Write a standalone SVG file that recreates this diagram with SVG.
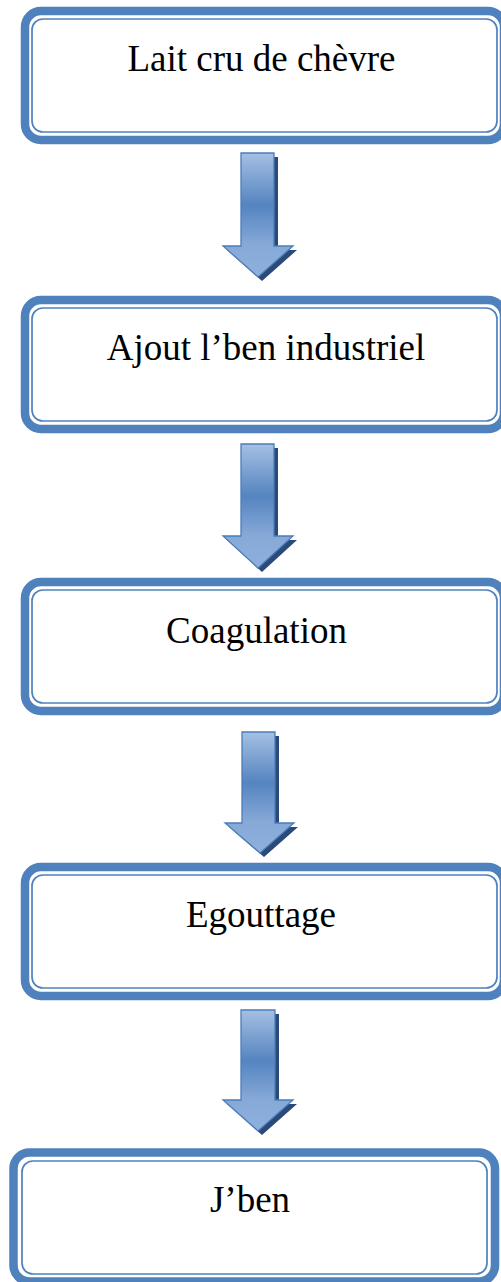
<svg xmlns="http://www.w3.org/2000/svg" width="501" height="1282" viewBox="0 0 501 1282">
<defs>
<linearGradient id="ag" x1="0" y1="0" x2="0" y2="1">
<stop offset="0" stop-color="#a5c0e3"/>
<stop offset="0.42" stop-color="#5584c0"/>
<stop offset="0.74" stop-color="#86a9d8"/>
<stop offset="1" stop-color="#8fb0dc"/>
</linearGradient>
<style>
.band{fill:none;stroke:#4f81bd;stroke-width:8.5}
.thin{fill:#fff;stroke:#4f81bd;stroke-width:1.7}
.lbl{font-family:"Liberation Serif","Times New Roman",serif;font-size:37px;fill:#000;text-anchor:middle}
.arr{fill:url(#ag);stroke:#4a7ebb;stroke-width:1.3;stroke-linejoin:miter}
.sh{fill:#2b4a78}
</style>
</defs>
<rect width="501" height="1282" fill="#fff"/>
<g id="connectors">
<g id="arrow1">
<path class="sh" d="M245,157 H278 V250 H297 L262,281 L227,250 H245 Z"/>
<path class="arr" d="M241,153 H274 V246 H293 L258,277 L223,246 H241 Z"/>
</g>
<g id="arrow2">
<path class="sh" d="M245,448 H278 V540 H297 L262,572 L227,540 H245 Z"/>
<path class="arr" d="M241,444 H274 V536 H293 L258,568 L223,536 H241 Z"/>
</g>
<g id="arrow3">
<path class="sh" d="M246,736 H279 V827 H298 L264,857 L229,827 H246 Z"/>
<path class="arr" d="M242,732 H275 V823 H294 L260,853 L225,823 H242 Z"/>
</g>
<g id="arrow4">
<path class="sh" d="M245,1014 H279 V1104 H297 L262,1135 L227,1104 H245 Z"/>
<path class="arr" d="M241,1010 H275 V1100 H293 L258,1131 L223,1100 H241 Z"/>
</g>
</g>
<g id="node1">
<rect class="band" x="25" y="11" width="479" height="129" rx="16"/>
<rect class="thin" x="32" y="19" width="465" height="113" rx="11"/>
<text class="lbl" x="261.5" y="71">Lait cru de chèvre</text>
</g>
<g id="node2">
<rect class="band" x="25" y="300" width="479" height="129" rx="16"/>
<rect class="thin" x="32" y="308" width="465" height="113" rx="11"/>
<text class="lbl" x="266" y="360">Ajout l’ben industriel</text>
</g>
<g id="node3">
<rect class="band" x="25" y="582" width="479" height="129" rx="16"/>
<rect class="thin" x="32" y="590" width="465" height="113" rx="11"/>
<text class="lbl" x="256.5" y="643">Coagulation</text>
</g>
<g id="node4">
<rect class="band" x="25" y="867" width="479" height="129" rx="16"/>
<rect class="thin" x="32" y="875" width="465" height="113" rx="11"/>
<text class="lbl" x="261" y="927">Egouttage</text>
</g>
<g id="node5">
<rect class="band" x="13.5" y="1152.5" width="481.5" height="129" rx="16"/>
<rect class="thin" x="22" y="1161" width="465" height="113" rx="11"/>
<text class="lbl" x="250" y="1212">J’ben</text>
</g>
</svg>
